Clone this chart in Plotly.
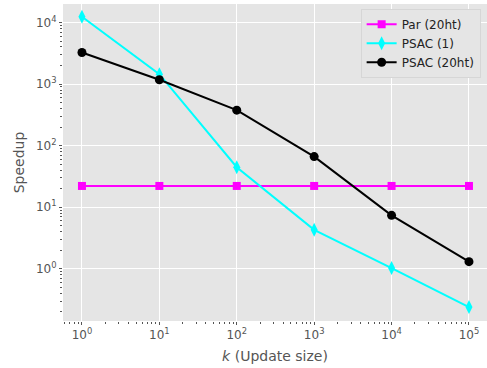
import plotly.graph_objects as go

# Update sizes and measured speedups
k_values = [1, 10, 100, 1000, 10000, 100000]
par_20ht = [22.2, 22.2, 22.2, 22.2, 22.2, 22.2]
psac_1 = [12400, 1450, 44.8, 4.3, 1.03, 0.24]
psac_20ht = [3260, 1175, 377, 66.5, 7.4, 1.31]

x_ticks = [1, 10, 100, 1000, 10000, 100000]
x_ticktext = ["10<sup>0</sup>", "10<sup>1</sup>", "10<sup>2</sup>",
              "10<sup>3</sup>", "10<sup>4</sup>", "10<sup>5</sup>"]
y_ticks = [1, 10, 100, 1000, 10000]
y_ticktext = ["10<sup>0</sup>", "10<sup>1</sup>", "10<sup>2</sup>",
              "10<sup>3</sup>", "10<sup>4</sup>"]

x_minor = [m * 10 ** e for e in range(-1, 6) for m in range(2, 10)]
y_minor = [m * 10 ** e for e in range(-1, 5) for m in range(2, 10)]

GRAY = "#555555"
FONT = "DejaVu Sans"

fig = go.Figure()
fig.add_trace(go.Scatter(
    x=k_values, y=par_20ht, name="Par (20ht)", mode="lines+markers",
    line=dict(color="#FF00FF", width=2),
    marker=dict(symbol="square", size=8, color="#FF00FF"),
))
fig.add_trace(go.Scatter(
    x=k_values, y=psac_1, name="PSAC (1)", mode="lines+markers",
    line=dict(color="#00FFFF", width=2),
    marker=dict(symbol="diamond-tall", size=10, color="#00FFFF"),
))
fig.add_trace(go.Scatter(
    x=k_values, y=psac_20ht, name="PSAC (20ht)", mode="lines+markers",
    line=dict(color="#000000", width=2),
    marker=dict(symbol="circle", size=9, color="#000000"),
))

axis_common = dict(
    type="log",
    showgrid=True, gridcolor="white", gridwidth=1,
    zeroline=False, showline=False,
    ticks="outside", ticklen=3, tickwidth=1, tickcolor=GRAY,
    tickfont=dict(family=FONT, size=12, color=GRAY),
    tickmode="array",
)

fig.update_layout(
    width=487, height=368,
    margin=dict(l=63, r=0, t=4, b=47),
    paper_bgcolor="white", plot_bgcolor="#E5E5E5",
    font=dict(family=FONT, color=GRAY),
    showlegend=True,
    legend=dict(
        x=0.985, y=0.985, xanchor="right", yanchor="top",
        bgcolor="#E5E5E5", bordercolor="#D6D6D6", borderwidth=1,
        font=dict(family=FONT, size=12, color="#222222"),
        tracegroupgap=0, itemwidth=30,
    ),
    xaxis=dict(
        **axis_common,
        range=[-0.245, 5.233],
        tickvals=x_ticks, ticktext=x_ticktext,
        minor=dict(tickmode="array", tickvals=x_minor, ticks="outside",
                   ticklen=2, tickwidth=1, tickcolor=GRAY, showgrid=False),
        title=dict(text="<i>k</i> (Update size)",
                   font=dict(family=FONT, size=14, color=GRAY), standoff=9),
    ),
    yaxis=dict(
        **axis_common,
        range=[-0.846, 4.30],
        tickvals=y_ticks, ticktext=y_ticktext,
        minor=dict(tickmode="array", tickvals=y_minor, ticks="outside",
                   ticklen=2, tickwidth=1, tickcolor=GRAY, showgrid=False),
        title=dict(text="Speedup",
                   font=dict(family=FONT, size=14, color=GRAY), standoff=8),
    ),
)

fig.write_html("out.html")
